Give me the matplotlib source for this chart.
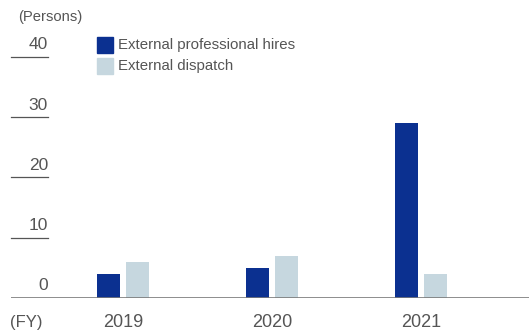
import numpy as np
import matplotlib
matplotlib.use("Agg")
import matplotlib.pyplot as plt
from matplotlib.patches import Rectangle

plt.rcParams.update({"font.family": ["Liberation Sans", "DejaVu Sans"]})

years = ["2019", "2020", "2021"]
prof_hires = [4, 5, 29]
dispatch = [6, 7, 4]
yticks = [0, 10, 20, 30, 40]

C_PROF = "#0b3090"
C_DISP = "#c6d7df"
C_TEXT = "#555555"

W, H = 529, 331
fig = plt.figure(figsize=(W / 100, H / 100), dpi=100)

# ejes: x en unidades de categoría, y en personas
px_per_unit = 149.0
x0_px = 123.0
left_px, base_px = 11.0, 298.0
px_per_person = 6.03
ymax = 41
ax = fig.add_axes([left_px / W, (H - base_px) / H, 1 - left_px / W,
                   ymax * px_per_person / H])
ax.set_xlim((left_px - x0_px) / px_per_unit, (W - x0_px) / px_per_unit)
ax.set_ylim(0, ymax)
ax.axis("off")

x = np.arange(len(years))
bw = 0.155
off = 0.097
ax.bar(x - off, prof_hires, bw, color=C_PROF, zorder=2)
ax.bar(x + off, dispatch, bw, color=C_DISP, zorder=2)

# línea base y marcas cortas del eje y
ax.axhline(0, color="#7a7a7a", lw=1.2, zorder=3)
tr = ax.get_yaxis_transform()
tick_w = (48 - left_px) / (W - left_px)
for v in yticks:
    if v > 0:
        ax.plot([0, tick_w], [v, v], color="#555555", lw=0.9, transform=tr,
                clip_on=False)
    ax.text(tick_w, v + 0.75, str(v), transform=tr, ha="right", va="bottom",
            fontsize=12.5, color=C_TEXT)

fig.text(18 / W, 1 - 17 / H, "(Persons)", ha="left", va="center",
         fontsize=10.6, color=C_TEXT)
fig.text(10 / W, 1 - 323 / H, "(FY)", ha="left", va="center",
         fontsize=12, color=C_TEXT)
for xi, yr in zip(x, years):
    ax.text(xi, -4.1, yr, ha="center", va="center", fontsize=13,
            color=C_TEXT, clip_on=False)

# leyenda manual
labels = ["External professional hires", "External dispatch"]
for i, (lab, col) in enumerate(zip(labels, [C_PROF, C_DISP])):
    yc = 45 + i * 21
    fig.patches.append(Rectangle((97 / W, 1 - (yc + 8) / H), 16 / W, 16 / H,
                                 transform=fig.transFigure, color=col))
    fig.text(118 / W, 1 - yc / H, lab, ha="left", va="center",
             fontsize=10.8, color=C_TEXT)

fig.savefig("out.png", dpi=100)
